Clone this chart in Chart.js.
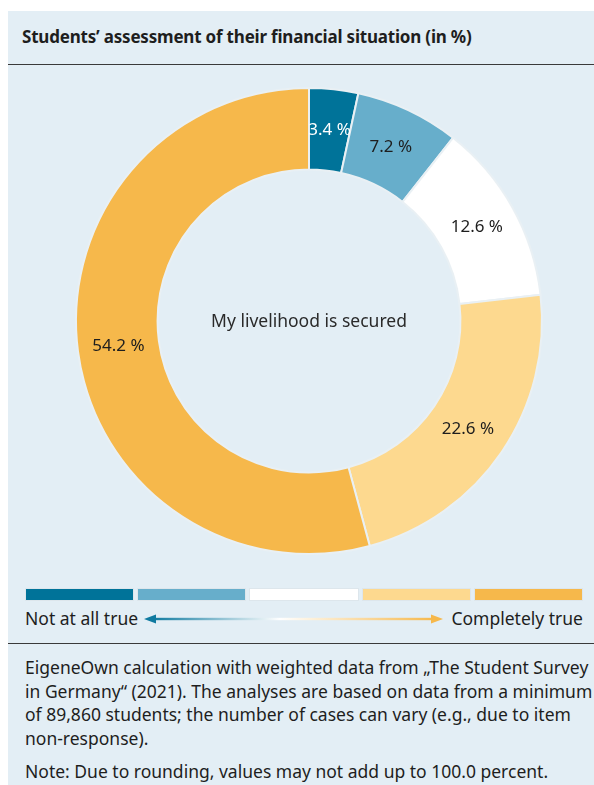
<!DOCTYPE html>
<html>
<head>
<meta charset="utf-8">
<script src="https://cdn.jsdelivr.net/npm/chart.js@4.4.0/dist/chart.umd.min.js"></script>
<style>
  html, body { margin: 0; padding: 0; background: #ffffff; }
  body { width: 594px; height: 785px; position: relative; overflow: hidden; font-family: "Noto Sans", sans-serif; color: #1e1e1e; }
  #panel { position: absolute; left: 8px; top: 11px; width: 586px; height: 774px; background: #e3eef5; }
  #title { position: absolute; left: 14px; top: 14px; font-weight: bold; font-size: 17px; color: #1e1e1e; letter-spacing: -0.2px; }
  .rule { position: absolute; left: 0; width: 586px; height: 0; border-top: 1.5px solid #3a3a3a; }
  #chartBox { position: absolute; left: 0; top: 56px; width: 586px; height: 508px; }
  #legend { position: absolute; left: 17px; top: 577px; width: 558px; height: 13px; display: flex; gap: 3px; }
  #legend div { flex: 1; border: 1px solid #dde6ec; box-sizing: border-box; }
  .end { position: absolute; top: 595px; font-size: 17.5px; line-height: 24px; }
  #arrow { position: absolute; left: 136px; top: 601px; }
  #note { position: absolute; left: 17px; top: 645px; width: 568px; font-size: 17.5px; line-height: 23.5px; }
  #note p { margin: 0 0 9.5px 0; }
</style>
</head>
<body>
<div id="panel">
  <div id="title">Students’ assessment of their financial situation (in %)</div>
  <div class="rule" style="top:53px"></div>
  <div id="chartBox"><canvas id="myChart"></canvas></div>
  <div id="legend"></div>
  <div class="end" style="left:17px">Not at all true</div>
  <svg id="arrow" width="300" height="14">
    <defs>
      <linearGradient id="grad" x1="0" x2="1" y1="0" y2="0">
        <stop offset="0" stop-color="#0f7aa0"/>
        <stop offset="0.45" stop-color="#ffffff"/>
        <stop offset="1" stop-color="#f6b84b"/>
      </linearGradient>
    </defs>
    <rect x="8" y="5.8" width="284" height="2.4" fill="url(#grad)"/>
    <polygon points="0,7 12,2.5 12,11.5" fill="#0f7aa0"/>
    <polygon points="299,7 287,2.5 287,11.5" fill="#f6b84b"/>
  </svg>
  <div class="end" style="right:11px">Completely true</div>
  <div class="rule" style="top:632px"></div>
  <div id="note">
    <p>EigeneOwn calculation with weighted data from „The Student Survey in Germany“ (2021). The analyses are based on data from a minimum of 89,860 students; the number of cases can vary (e.g., due to item non-response).</p>
    <p>Note: Due to rounding, values may not add up to 100.0 percent.</p>
  </div>
</div>
<script>
const categories = ['1', '2', '3', '4', '5']
const shares = [3.4, 7.2, 12.6, 22.6, 54.2]
const sliceColors = ['#007399', '#67aecb', '#ffffff', '#fdd98f', '#f6b84b']
const labelColors = ['#ffffff', '#1e1e1e', '#1e1e1e', '#1e1e1e', '#1e1e1e']
const centerText = 'My livelihood is secured'

// legend swatches
let legend = document.getElementById('legend')
sliceColors.forEach(function (c) {
    let d = document.createElement('div')
    d.style.background = c
    legend.appendChild(d)
})

// writes the value in the middle of each slice and the centre caption
const sliceLabels = {
    id: 'sliceLabels',
    afterDatasetsDraw(chart) {
        const ctx = chart.ctx
        const meta = chart.getDatasetMeta(0)
        ctx.save()
        ctx.font = '17px "Noto Sans", sans-serif'
        ctx.textAlign = 'center'
        ctx.textBaseline = 'middle'
        meta.data.forEach(function (arc, i) {
            const p = arc.getCenterPoint()
            ctx.fillStyle = labelColors[i]
            ctx.fillText(shares[i].toFixed(1) + ' %', p.x, p.y)
        })
        const a = meta.data[0]
        ctx.fillStyle = '#2a2a2a'
        ctx.font = '17.5px "Noto Sans", sans-serif'
        ctx.fillText(centerText, a.x, a.y + 1)
        ctx.restore()
    }
}

new Chart(document.getElementById('myChart'), {
    type: 'doughnut',
    data: {
        labels: categories,
        datasets: [{
            data: shares,
            backgroundColor: sliceColors,
            borderColor: '#e9f0f4',
            borderWidth: 2
        }]
    },
    options: {
        responsive: true,
        maintainAspectRatio: false,
        animation: false,
        cutout: '65%',
        layout: { padding: { left: 16, right: 0, top: 20, bottom: 20 } },
        plugins: {
            legend: { display: false },
            tooltip: { enabled: false }
        }
    },
    plugins: [sliceLabels]
});
</script>
</body>
</html>
